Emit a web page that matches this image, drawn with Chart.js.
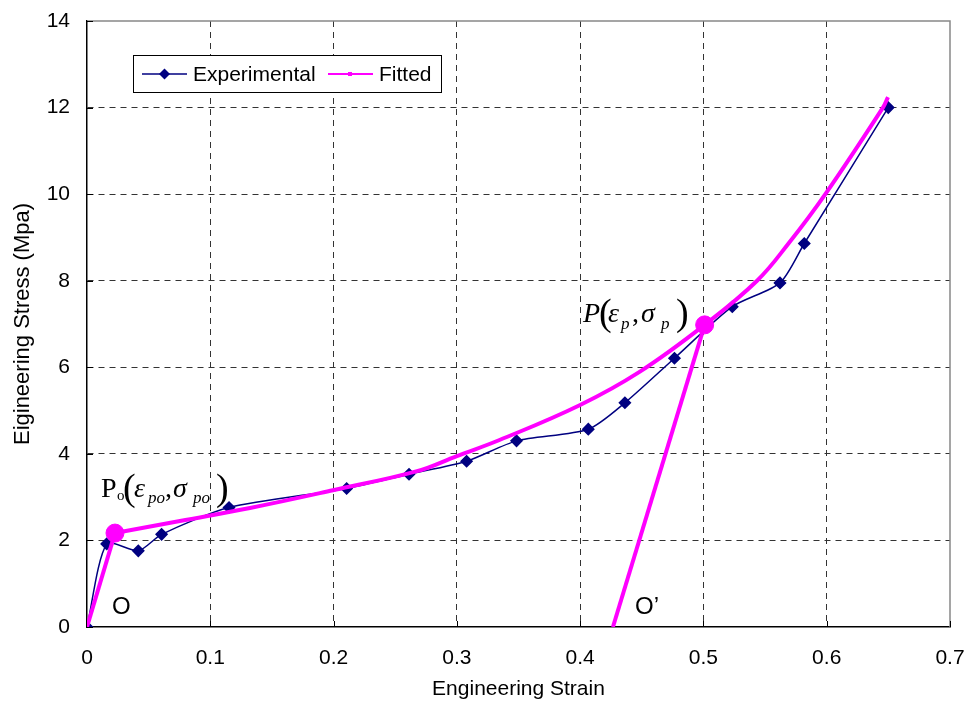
<!DOCTYPE html>
<html>
<head>
<meta charset="utf-8">
<script src="https://cdn.jsdelivr.net/npm/chart.js@4.4.0/dist/chart.umd.min.js"></script>
<style>
  html, body { margin: 0; padding: 0; background: #fff; }
  #wrap { width: 969px; height: 709px; }
</style>
</head>
<body>
<div id="wrap"><canvas id="stress-strain"></canvas></div>
<script>
// Measured stress-strain test points
const expStrain = [0, 0.016, 0.0416, 0.0605, 0.1152, 0.2106, 0.2612, 0.3079, 0.3484, 0.4066, 0.4363, 0.4765, 0.5234, 0.5621, 0.5818, 0.6499];
const expStress = [0, 1.92, 1.76, 2.14, 2.76, 3.20, 3.53, 3.83, 4.30, 4.57, 5.18, 6.21, 7.40, 7.95, 8.86, 12.00];

// Fitted hardening curve, from Po up to the last point
const fitStrain = [0.0227, 0.0754, 0.1322, 0.1995, 0.2677, 0.30, 0.3346, 0.40, 0.4485, 0.501, 0.5435, 0.5690, 0.5986, 0.6456, 0.6497];
const fitStress = [2.17, 2.45, 2.75, 3.16, 3.60, 3.95, 4.32, 5.13, 5.90, 6.98, 8.00, 8.86, 9.99, 12.0, 12.24];

// Elastic branch O -> Po and unloading branch P -> O'
const elasticStrain = [0, 0.0227];
const elasticStress = [0, 2.17];
const unloadStrain = [0.501, 0.4266];
const unloadStress = [6.98, 0];

// Points Po and P
const keyStrain = [0.0227, 0.501];
const keyStress = [2.17, 6.98];

const xTicks = [0, 0.1, 0.2, 0.3, 0.4, 0.5, 0.6, 0.7];
const yTicks = [0, 2, 4, 6, 8, 10, 12, 14];

const NAVY = '#000080';
const MAGENTA = '#ff00ff';
const SANS = 'Arial, "Liberation Sans", sans-serif';
const SERIF = '"Liberation Serif", "Times New Roman", serif';

function pts(xs, ys) {
    return xs.map((x, i) => ({ x: x, y: ys[i] }));
}

// draws a label built from pieces with their own font and position
function drawRuns(ctx, runs) {
    runs.forEach(r => {
        ctx.font = r.font;
        ctx.fillText(r.t, r.x, r.y);
    });
}

const decorations = {
    id: 'decorations',
    beforeDatasetsDraw(chart) {
        const { ctx, chartArea: a, scales: { x, y } } = chart;
        ctx.save();
        // grey frame top and right
        ctx.strokeStyle = '#888888';
        ctx.lineWidth = 1.5;
        ctx.beginPath();
        ctx.moveTo(a.left, a.top);
        ctx.lineTo(a.right, a.top);
        ctx.lineTo(a.right, a.bottom);
        ctx.stroke();
        // short inward tick marks
        ctx.strokeStyle = '#000';
        ctx.lineWidth = 1;
        xTicks.forEach(v => {
            const px = Math.round(x.getPixelForValue(v)) + 0.5;
            ctx.beginPath();
            ctx.moveTo(px, a.bottom);
            ctx.lineTo(px, a.bottom - 6);
            ctx.stroke();
        });
        yTicks.forEach(v => {
            const py = Math.round(y.getPixelForValue(v)) + 0.5;
            ctx.beginPath();
            ctx.moveTo(a.left, py);
            ctx.lineTo(a.left + 6, py);
            ctx.stroke();
        });
        ctx.restore();
    },
    afterDraw(chart) {
        const { ctx } = chart;
        ctx.save();

        // legend box
        ctx.fillStyle = '#fff';
        ctx.fillRect(133.5, 55.5, 308, 37);
        ctx.strokeStyle = '#000';
        ctx.lineWidth = 1;
        ctx.strokeRect(133.5, 55.5, 308, 37);

        ctx.strokeStyle = NAVY;
        ctx.lineWidth = 1.5;
        ctx.beginPath();
        ctx.moveTo(142, 74);
        ctx.lineTo(187, 74);
        ctx.stroke();
        ctx.fillStyle = NAVY;
        ctx.beginPath();
        ctx.moveTo(164.5, 68.5);
        ctx.lineTo(170, 74);
        ctx.lineTo(164.5, 79.5);
        ctx.lineTo(159, 74);
        ctx.closePath();
        ctx.fill();

        ctx.strokeStyle = MAGENTA;
        ctx.lineWidth = 2;
        ctx.beginPath();
        ctx.moveTo(328, 74);
        ctx.lineTo(373, 74);
        ctx.stroke();
        ctx.fillStyle = MAGENTA;
        ctx.fillRect(348, 72, 4, 4);

        ctx.fillStyle = '#000';
        ctx.font = '21px ' + SANS;
        ctx.textBaseline = 'middle';
        ctx.fillText('Experimental', 193, 75);
        ctx.fillText('Fitted', 379, 75);

        // point labels
        ctx.textBaseline = 'alphabetic';
        drawRuns(ctx, [
            { t: 'P', font: '28px ' + SERIF, x: 101, y: 497 },
            { t: 'o', font: '15px ' + SERIF, x: 117, y: 500 },
            { t: '(', font: '38px ' + SERIF, x: 123, y: 500 },
            { t: 'ε', font: 'italic 28px ' + SERIF, x: 134, y: 497 },
            { t: 'po', font: 'italic 17px ' + SERIF, x: 148, y: 503 },
            { t: ',', font: '28px ' + SERIF, x: 165, y: 497 },
            { t: 'σ', font: 'italic 28px ' + SERIF, x: 173, y: 497 },
            { t: 'po', font: 'italic 17px ' + SERIF, x: 193, y: 503 },
            { t: ')', font: '38px ' + SERIF, x: 216, y: 500 }
        ]);
        drawRuns(ctx, [
            { t: 'P', font: 'italic 28px ' + SERIF, x: 583, y: 322 },
            { t: '(', font: '38px ' + SERIF, x: 599, y: 325 },
            { t: 'ε', font: 'italic 28px ' + SERIF, x: 608, y: 322 },
            { t: 'p', font: 'italic 17px ' + SERIF, x: 621, y: 329 },
            { t: ',', font: '28px ' + SERIF, x: 632, y: 322 },
            { t: 'σ', font: 'italic 28px ' + SERIF, x: 641, y: 322 },
            { t: 'p', font: 'italic 17px ' + SERIF, x: 661, y: 329 },
            { t: ')', font: '38px ' + SERIF, x: 676, y: 325 }
        ]);

        ctx.font = '24px ' + SANS;
        ctx.fillText('O', 112, 614);
        ctx.fillText('O\u2019', 635, 614);

        ctx.restore();
    }
};

const gridColor = (edge) => (c) => (c.tick && (c.tick.value === 0 || c.tick.value === edge)) ? 'rgba(0,0,0,0)' : '#333333';

new Chart(document.getElementById('stress-strain'), {
    type: 'scatter',
    data: {
        datasets: [
            {
                label: 'Fitted',
                data: pts(fitStrain, fitStress),
                showLine: true,
                borderColor: MAGENTA,
                borderWidth: 4,
                pointRadius: 0,
                tension: 0.4,
                order: 0
            },
            {
                label: 'elastic',
                data: pts(elasticStrain, elasticStress),
                showLine: true,
                borderColor: MAGENTA,
                borderWidth: 4,
                pointRadius: 0,
                order: 0
            },
            {
                label: 'unload',
                data: pts(unloadStrain, unloadStress),
                showLine: true,
                borderColor: MAGENTA,
                borderWidth: 4,
                pointRadius: 0,
                order: 0
            },
            {
                label: 'key points',
                data: pts(keyStrain, keyStress),
                showLine: false,
                pointRadius: 9,
                pointBackgroundColor: MAGENTA,
                pointBorderColor: MAGENTA,
                order: -1
            },
            {
                label: 'Experimental',
                data: pts(expStrain, expStress),
                showLine: true,
                borderColor: NAVY,
                borderWidth: 1.5,
                tension: 0.25,
                pointStyle: 'rectRot',
                pointRadius: 5.5,
                pointBackgroundColor: NAVY,
                pointBorderColor: NAVY,
                order: 1
            }
        ]
    },
    options: {
        responsive: true,
        maintainAspectRatio: false,
        animation: false,
        layout: { padding: { top: 21, right: 19, left: 0, bottom: 0 } },
        plugins: {
            legend: { display: false },
            tooltip: { enabled: false }
        },
        scales: {
            x: {
                type: 'linear',
                min: 0,
                max: 0.7,
                afterBuildTicks: (s) => { s.ticks = xTicks.map(v => ({ value: v })); },
                afterFit: (s) => { s.height = 82; s.paddingLeft = 0; s.paddingRight = 0; },
                grid: { color: gridColor(0.7), lineWidth: 1, drawTicks: false },
                border: { display: true, color: '#000', width: 1.5, dash: [6, 5] },
                ticks: {
                    color: '#000',
                    padding: 19,
                    font: { family: SANS, size: 21 },
                    callback: (v) => v === 0 ? '0' : v.toFixed(1)
                },
                title: {
                    display: true,
                    text: 'Engineering Strain',
                    color: '#000',
                    font: { family: SANS, size: 21 },
                    padding: { top: 0, bottom: 7 }
                }
            },
            y: {
                type: 'linear',
                min: 0,
                max: 14,
                afterBuildTicks: (s) => { s.ticks = yTicks.map(v => ({ value: v })); },
                afterFit: (s) => { s.width = 87; s.paddingTop = 0; s.paddingBottom = 0; },
                grid: { color: gridColor(14), lineWidth: 1, drawTicks: false },
                border: { display: true, color: '#000', width: 1.5, dash: [6, 5] },
                ticks: {
                    color: '#000',
                    padding: 17,
                    font: { family: SANS, size: 21 },
                    callback: (v) => String(v)
                },
                title: {
                    display: true,
                    text: 'Eigineering Stress (Mpa)',
                    color: '#000',
                    font: { family: SANS, size: 22 },
                    padding: { top: 10, bottom: 0 }
                }
            }
        }
    },
    plugins: [decorations]
});
</script>
</body>
</html>
